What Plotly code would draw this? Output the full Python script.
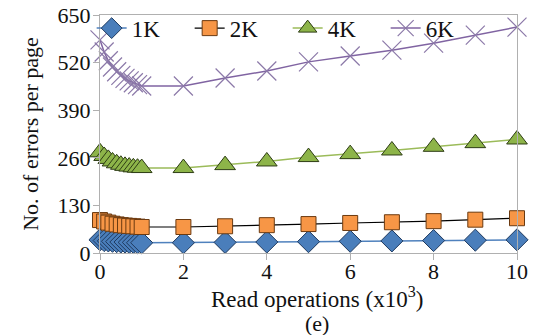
import plotly.graph_objects as go

# Read operations (x10^3)
x_vals = [0, 0.1, 0.2, 0.3, 0.4, 0.5, 0.6, 0.7, 0.8, 0.9, 1, 2, 3, 4, 5, 6, 7, 8, 9, 10]

# Errors per page for each page size
err_1k = [36, 34, 33, 32, 31, 30, 30, 29, 29, 28, 28, 28, 29, 30, 31, 32, 33, 34, 35, 36]
err_2k = [90, 86, 83, 80, 78, 76, 75, 74, 73, 72, 71, 71, 73, 76, 79, 82, 84, 87, 91, 95]
err_4k = [275, 265, 257, 250, 245, 241, 238, 236, 234, 233, 232, 232, 240, 250, 262, 270, 280, 290, 300, 310]
err_6k = [582, 549, 525, 508, 495, 485, 477, 470, 465, 460, 456, 456, 478, 497, 522, 538, 554, 573, 595, 617]

y_ticks = [0, 130, 260, 390, 520, 650]
x_ticks = [0, 2, 4, 6, 8, 10]

FONT = "'Liberation Serif', 'Times New Roman', serif"

fig = go.Figure()
fig.add_trace(go.Scatter(
    x=x_vals, y=err_1k, name="1K", mode="lines+markers", cliponaxis=False,
    line=dict(color="#4f81bd", width=1.5),
    marker=dict(symbol="diamond", size=17, color="#4a7ebb",
                line=dict(color="#1f3a5f", width=1)),
))
fig.add_trace(go.Scatter(
    x=x_vals, y=err_2k, name="2K", mode="lines+markers", cliponaxis=False,
    line=dict(color="#000000", width=1.2),
    marker=dict(symbol="square", size=15, color="#f79646",
                line=dict(color="#6b3a10", width=1)),
))
fig.add_trace(go.Scatter(
    x=x_vals, y=err_4k, name="4K", mode="lines+markers", cliponaxis=False,
    line=dict(color="#9bbb59", width=1.5),
    marker=dict(symbol="triangle-up", size=18, color="#8db449",
                line=dict(color="#2e3d15", width=1)),
))
fig.add_trace(go.Scatter(
    x=x_vals, y=err_6k, name="6K", mode="lines+markers", cliponaxis=False,
    line=dict(color="#8064a2", width=1.5),
    marker=dict(symbol="x-thin-open", size=19, color="#8b78a8",
                line=dict(color="#8b78a8", width=1.2)),
))

fig.update_layout(
    width=540, height=335,
    margin=dict(l=100, r=23, t=15, b=82, autoexpand=False),
    paper_bgcolor="white", plot_bgcolor="white",
    font=dict(family=FONT, size=22, color="#111111"),
    showlegend=True,
    legend=dict(orientation="h", x=-0.02, y=1.035, xanchor="left", yanchor="top",
                bgcolor="rgba(0,0,0,0)", font=dict(size=23),
                itemwidth=30, entrywidth=53, entrywidthmode="pixels", tracegroupgap=0),
    annotations=[
        dict(text="Read operations (x10<sup>3</sup>)", xref="paper", yref="paper",
             x=0.52, y=-0.185, xanchor="center", yanchor="middle", showarrow=False,
             font=dict(size=23)),
        dict(text="(e)", xref="paper", yref="paper",
             x=0.52, y=-0.295, xanchor="center", yanchor="middle", showarrow=False,
             font=dict(size=22)),
    ],
)
fig.update_xaxes(
    range=[0, 10], tickvals=x_ticks, ticks="outside", ticklen=6,
    tickcolor="#b0b0b0", showline=True, linecolor="#b0b0b0", linewidth=1,
    mirror=True, showgrid=False, zeroline=False, automargin=False,
    tickfont=dict(size=22), ticklabelstandoff=-7,
)
fig.update_yaxes(
    range=[0, 650], tickvals=y_ticks, ticks="outside", ticklen=6,
    tickcolor="#b0b0b0", showline=True, linecolor="#b0b0b0", linewidth=1,
    mirror=True, showgrid=False, zeroline=False, automargin=False,
    tickfont=dict(size=22), ticklabelstandoff=-2,
    title=dict(text="No. of errors per page", font=dict(size=22), standoff=12),
)

fig.write_html("out.html")
